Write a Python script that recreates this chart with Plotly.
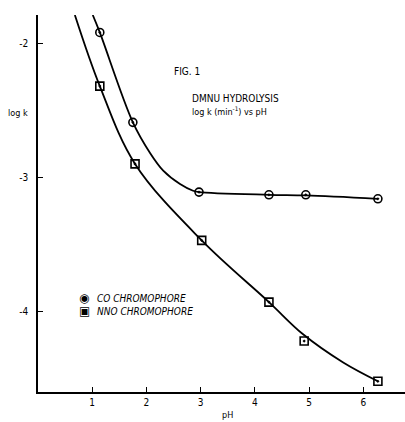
import plotly.graph_objects as go

# Measured data
ph_co = [1.14, 1.75, 2.97, 4.26, 4.94, 6.27]
logk_co = [-1.92, -2.59, -3.11, -3.13, -3.13, -3.16]
ph_nno = [1.14, 1.79, 3.02, 4.26, 4.91, 6.27]
logk_nno = [-2.32, -2.90, -3.47, -3.93, -4.22, -4.52]

# Smooth fitted curves
curve_co_x = [1.01, 1.14, 1.75, 2.07, 2.31, 2.62, 2.86, 2.97, 4.26, 4.94, 6.27]
curve_co_y = [-1.79, -1.92, -2.59, -2.82, -2.95, -3.05, -3.10, -3.11, -3.13, -3.135, -3.16]
curve_nno_x = [0.68, 1.14, 1.79, 3.02, 4.26, 4.89, 5.63, 6.27]
curve_nno_y = [-1.79, -2.32, -2.90, -3.47, -3.93, -4.17, -4.38, -4.52]

x_ticks = [1, 2, 3, 4, 5, 6]
y_ticks = [-2, -3, -4]

FONT = "Liberation Sans Narrow, DejaVu Sans Condensed, sans-serif"

fig = go.Figure()
fig.add_trace(go.Scatter(x=curve_co_x, y=curve_co_y, mode="lines",
                         line=dict(color="black", width=1.8, shape="spline", smoothing=1.0),
                         showlegend=False, hoverinfo="skip"))
fig.add_trace(go.Scatter(x=curve_nno_x, y=curve_nno_y, mode="lines",
                         line=dict(color="black", width=1.8, shape="spline", smoothing=1.0),
                         showlegend=False, hoverinfo="skip"))
fig.add_trace(go.Scatter(x=ph_co, y=logk_co, mode="markers", name="CO CHROMOPHORE",
                         marker=dict(symbol="circle-open-dot", size=8, color="black",
                                     line=dict(color="black", width=1.6)),
                         showlegend=False))
fig.add_trace(go.Scatter(x=ph_nno, y=logk_nno, mode="markers", name="NNO CHROMOPHORE",
                         marker=dict(symbol="square-open-dot", size=8, color="black",
                                     line=dict(color="black", width=1.6)),
                         showlegend=False))

L, T, R, B = 38, 15, 0, 30
PW, PH = 405 - L - R, 422 - T - B


def px(xp):
    return (xp - L) / PW


def py(yp):
    return (422 - B - yp) / PH


fig.update_layout(
    width=405, height=422,
    margin=dict(l=L, r=R, t=T, b=B, autoexpand=False),
    paper_bgcolor="white", plot_bgcolor="white",
    font=dict(family=FONT, size=10, color="black"),
    showlegend=False,
    xaxis=dict(range=[0, 6.77], tickvals=x_ticks, ticktext=[str(v) for v in x_ticks],
               showgrid=False, zeroline=False, showline=True, linecolor="black", linewidth=1.5,
               ticks="inside", ticklen=5, tickcolor="black", tickfont=dict(size=10)),
    yaxis=dict(range=[-4.60, -1.79], tickvals=y_ticks, ticktext=["-2", "-3", "-4"],
               showgrid=False, zeroline=False, showline=True, linecolor="black", linewidth=1.5,
               ticks="inside", ticklen=5, tickcolor="black", tickfont=dict(size=10),
               ticklabelstandoff=6),
    annotations=[
        dict(text="FIG. 1", xref="paper", yref="paper", x=px(172), y=py(72),
             xanchor="left", yanchor="middle", showarrow=False, font=dict(size=10)),
        dict(text="DMNU HYDROLYSIS", xref="paper", yref="paper", x=px(190), y=py(98),
             xanchor="left", yanchor="middle", showarrow=False, font=dict(size=10)),
        dict(text="log k (min<sup>-1</sup>) vs pH", xref="paper", yref="paper", x=px(190), y=py(111),
             xanchor="left", yanchor="middle", showarrow=False, font=dict(size=9)),
        dict(text="log k", xref="paper", yref="paper", x=px(6), y=py(113),
             xanchor="left", yanchor="middle", showarrow=False, font=dict(size=9)),
        dict(text="pH", xref="paper", yref="paper", x=px(227), y=py(415),
             xanchor="center", yanchor="middle", showarrow=False, font=dict(size=9)),
        dict(text="◉", xref="paper", yref="paper", x=px(84), y=py(298),
             xanchor="center", yanchor="middle", showarrow=False, font=dict(size=12, family="DejaVu Sans")),
        dict(text="▣", xref="paper", yref="paper", x=px(84), y=py(311),
             xanchor="center", yanchor="middle", showarrow=False, font=dict(size=12, family="DejaVu Sans")),
        dict(text="<i>CO CHROMOPHORE</i>", xref="paper", yref="paper", x=px(95), y=py(298),
             xanchor="left", yanchor="middle", showarrow=False, font=dict(size=10)),
        dict(text="<i>NNO CHROMOPHORE</i>", xref="paper", yref="paper", x=px(95), y=py(311),
             xanchor="left", yanchor="middle", showarrow=False, font=dict(size=10)),
    ],
)

fig.write_html("out.html", config={"displayModeBar": False},
               post_script="document.body.style.margin='0';")
